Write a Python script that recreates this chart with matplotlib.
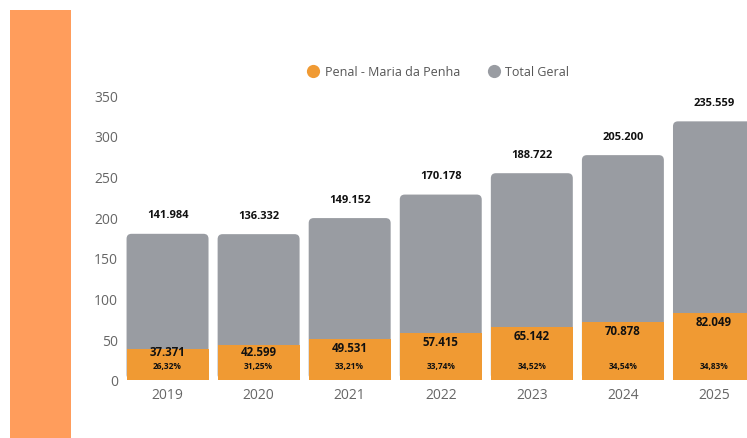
import matplotlib
matplotlib.use("Agg")
import matplotlib.pyplot as plt
from matplotlib.patches import FancyBboxPatch, Rectangle
from matplotlib.lines import Line2D

years = ["2019", "2020", "2021", "2022", "2023", "2024", "2025"]
penal = [37.371, 42.599, 49.531, 57.415, 65.142, 70.878, 82.049]
total = [141.984, 136.332, 149.152, 170.178, 188.722, 205.200, 235.559]
penal_labels = ["37.371", "42.599", "49.531", "57.415", "65.142", "70.878", "82.049"]
total_labels = ["141.984", "136.332", "149.152", "170.178", "188.722", "205.200", "235.559"]
pct_labels = ["26,32%", "31,25%", "33,21%", "33,74%", "34,52%", "34,54%", "34,83%"]
yticks = [0, 50, 100, 150, 200, 250, 300, 350]

ORANGE = "#F09A33"
GRAY = "#999CA2"
STRIP = "#FF9D5C"
TXT = "#555555"

plt.rcParams['font.family'] = ['Open Sans', 'DejaVu Sans']

W, H = 747, 439
fig = plt.figure(figsize=(W / 100, H / 100), dpi=100)
fig.patch.set_facecolor("white")

# left orange strip
fig.patches.append(Rectangle((10 / W, 0), 61 / W, (H - 11) / H,
                             transform=fig.transFigure, facecolor=STRIP,
                             edgecolor="none", zorder=0))

ax = fig.add_axes([122 / W, (H - 380.7) / H, 637.5 / W, 284.7 / H])
ax.set_facecolor("none")
x = list(range(len(years)))
width = 0.9

gray_bars = ax.bar(x, total, width, bottom=penal, color=GRAY, zorder=2)
orange_bars = ax.bar(x, penal, width, color=ORANGE, zorder=3)

px_per_x = 637.5 / 7.0
px_per_y = 284.7 / 350.0
r_px = 5
for b in gray_bars:
    x0, y0 = b.get_x(), 0
    w = b.get_width()
    h = b.get_y() + b.get_height()
    b.set_visible(False)
    fb = FancyBboxPatch((x0, y0), w, h,
                        boxstyle="round,pad=0,rounding_size=%f" % (r_px / px_per_x),
                        mutation_aspect=px_per_x / px_per_y,
                        facecolor=GRAY, edgecolor="none", zorder=2)
    ax.add_patch(fb)

min_label_y = 27.7 / px_per_y  # keep penal value above the percentage
for i in x:
    top = penal[i] + total[i]
    ax.annotate(total_labels[i], (i, top), xytext=(0, 19), textcoords="offset pixels",
                ha="center", va="center", fontsize=8, fontweight="bold",
                color="#111111", annotation_clip=False)
    ly = max(penal[i] - 8.5 / px_per_y, min_label_y)
    ax.text(i, ly, penal_labels[i], ha="center", va="center", fontsize=8.3,
            fontweight="bold", color="#111111", zorder=5)
    ax.annotate(pct_labels[i], (i, 0), xytext=(0, 14), textcoords="offset pixels",
                ha="center", va="center", fontsize=6, fontweight="bold",
                color="#111111", zorder=5)

ax.set_xlim(-0.5, 6.5)
ax.set_ylim(0, 350)
ax.set_yticks(yticks)
ax.set_yticklabels([str(v) for v in yticks])
ax.set_xticks(x)
ax.set_xticklabels(years)
for s in ax.spines.values():
    s.set_visible(False)
ax.tick_params(axis="both", length=0, labelsize=10, labelcolor="#666666")
ax.tick_params(axis="y", pad=3)
ax.tick_params(axis="x", pad=5)

handles = [Line2D([], [], marker="o", linestyle="none", markersize=9.5,
                  markerfacecolor=ORANGE, markeredgecolor="none"),
           Line2D([], [], marker="o", linestyle="none", markersize=9.5,
                  markerfacecolor=GRAY, markeredgecolor="none")]
fig.legend(handles, ["Penal - Maria da Penha", "Total Geral"], loc="center",
           bbox_to_anchor=(438 / W, (H - 73) / H), ncol=2, frameon=False,
           fontsize=9, labelcolor=TXT, handletextpad=0.4, columnspacing=2.2,
           handlelength=1.0)

fig.savefig("out.png", dpi=100)
